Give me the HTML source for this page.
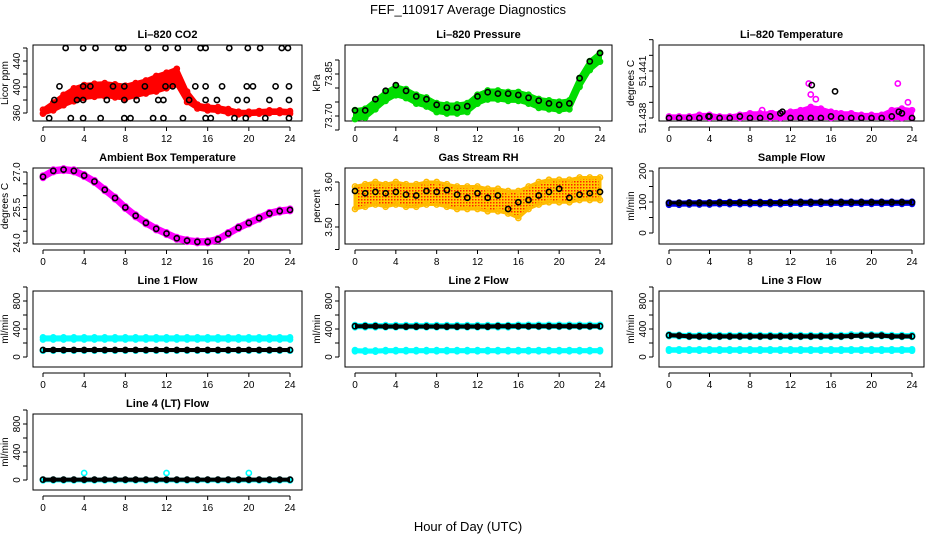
<!DOCTYPE html>
<html><head><meta charset="utf-8"><style>
html,body{margin:0;padding:0;background:#fff}
svg{display:block;font-family:"Liberation Sans",Arial,sans-serif}
</style></head><body>
<svg id="c" width="936" height="540" viewBox="0 0 936 540">
<defs>
<pattern id="rhpat" width="3" height="3" patternUnits="userSpaceOnUse"><rect width="3" height="3" fill="#ffcc00"/><rect x="1" y="1" width="1.5" height="1.5" fill="#ff2200"/></pattern>
</defs>
<text x="468" y="14" text-anchor="middle" font-size="13">FEF_110917  Average Diagnostics</text>
<text x="468" y="531" text-anchor="middle" font-size="13">Hour of Day (UTC)</text>
</svg>
<script>
// ---- data ----
const hours = [0,1,2,3,4,5,6,7,8,9,10,11,12,13,14,15,16,17,18,19,20,21,22,23,24];
const xTicks = [0,4,8,12,16,20,24];

const co2Red = [362,370,380,388,393,395,396,394,392,396,400,405,410,416,385,370,367,366,363,360,360,361,362,362,361];
const co2RedW = [3,6,8,10,10,10,10,10,10,10,10,12,12,12,8,3,3,3,3,2,2,2,2,2,2];
const co2BlkTopH = [2.2,3.9,5.1,7.3,7.8,10.2,11.9,13.1,15.3,15.8,18.1,19.9,21.1,23.2,23.8];
const co2BlkHiH = [1.6,3.9,4.6,6.8,7.9,9.9,11.9,12.6,14.8,15.8,17.4,19.8,20.4,22.6,23.9];
const co2BlkMidH = [1.1,3.3,3.9,6.2,7.9,9.1,11.2,11.7,14.2,15.8,16.9,18.9,19.8,22.0,23.9];
const co2BlkLowH = [0.6,2.7,3.9,5.6,7.9,8.5,10.7,11.7,13.6,15.8,16.3,18.6,19.7,21.6,23.9];
const co2Levels = [460,401,380,352];
const co2YTicks = [360,400,440];

const presGreen = [73.705,73.71,73.74,73.77,73.79,73.78,73.76,73.75,73.73,73.725,73.725,73.73,73.76,73.775,73.775,73.77,73.77,73.76,73.745,73.74,73.735,73.74,73.82,73.88,73.91];
const presBlk = [73.72,73.72,73.76,73.79,73.81,73.79,73.77,73.76,73.74,73.73,73.73,73.735,73.77,73.785,73.78,73.78,73.775,73.765,73.755,73.745,73.74,73.745,73.835,73.895,73.925];
const presYTicks = [73.70,73.85];

const tempPinkHi = [51.4381,51.4381,51.4381,51.4382,51.4382,51.4381,51.4381,51.4382,51.4383,51.4383,51.4383,51.4383,51.4384,51.4385,51.4387,51.4386,51.4384,51.4383,51.4383,51.4382,51.4382,51.4382,51.4385,51.4386,51.4385];
const tempPinkOutH = [14.1,13.8,14.0,14.5,9.2,22.6,23.6,10.2,12.8,16.5];
const tempPinkOutV = [51.4443,51.4402,51.4395,51.4392,51.4385,51.4402,51.4390,51.4383,51.4383,51.4383];
const tempBlk = [51.4380,51.4380,51.4380,51.4380,51.4381,51.4380,51.4380,51.4381,51.4380,51.4380,51.4381,51.4383,51.4380,51.4380,51.4380,51.4380,51.4381,51.4380,51.4380,51.4380,51.4380,51.4380,51.4381,51.4383,51.4380];
const tempBlkOutH = [14.1,16.4,11.2,22.7,3.9];
const tempBlkOutV = [51.4401,51.4397,51.4384,51.4384,51.4381];
const tempYTicks = [51.438,51.441];

const ambPink = [26.8,27.05,27.1,27.05,26.85,26.6,26.25,25.9,25.5,25.15,24.85,24.6,24.4,24.2,24.1,24.05,24.05,24.15,24.4,24.65,24.85,25.05,25.25,25.35,25.4];
const ambYTicks = [24.0,25.5,27.0];

const rhOrange = [3.565,3.57,3.575,3.57,3.575,3.57,3.57,3.575,3.575,3.57,3.565,3.565,3.565,3.56,3.56,3.555,3.55,3.565,3.575,3.58,3.58,3.58,3.585,3.585,3.585];
const rhOrangeW = [0.025,0.025,0.025,0.025,0.025,0.025,0.025,0.025,0.025,0.025,0.025,0.025,0.025,0.025,0.025,0.025,0.03,0.025,0.025,0.025,0.025,0.025,0.025,0.025,0.025];
const rhBlk = [3.58,3.575,3.578,3.575,3.578,3.572,3.57,3.58,3.578,3.582,3.572,3.565,3.575,3.565,3.57,3.54,3.555,3.56,3.57,3.578,3.585,3.565,3.572,3.575,3.578];
const rhYTicks = [3.50,3.60];

const sampleBlue = [95,95,96,96,96,97,97,97,97,97,97,97,98,98,98,98,98,98,98,98,98,98,98,98,98];
const sampleBlk = [97,97,97,97,97,98,98,98,98,98,98,98,99,99,99,100,99,99,99,99,99,99,99,99,99];
const sampleYTicks = [0,100,200];

const flowYTicks = [0,400,800];
const flowMinorTicks = [0,200,400,600,800,1000];
const l1CyanHi = [265,265,265,265,265,265,265,265,265,265,265,265,265,265,265,265,265,265,265,265,265,265,265,265,265];
const l1CyanLo = [95,95,95,95,95,95,95,95,95,95,95,95,95,95,95,95,95,95,95,95,95,95,95,95,95];
const l1Blk = [100,100,100,100,100,100,100,100,100,100,100,100,100,100,100,100,100,100,100,100,100,100,100,100,100];
const l2CyanHi = [440,440,440,440,440,440,440,440,440,440,440,440,440,440,440,440,445,445,445,445,445,445,445,445,445];
const l2CyanLo = [90,85,85,90,90,90,90,90,90,90,90,90,90,90,90,90,90,90,90,90,90,90,90,90,90];
const l2Blk = [440,440,440,435,435,435,435,435,435,435,435,435,435,435,440,440,440,440,440,440,440,440,440,440,440];
const l3CyanHi = [310,305,300,300,300,300,300,300,300,300,300,300,300,300,300,300,300,300,310,310,310,310,300,300,300];
const l3CyanLo = [100,100,100,100,100,100,100,100,100,100,100,100,100,100,100,100,100,100,100,100,100,100,100,100,100];
const l3Blk = [310,305,295,295,295,295,295,295,295,295,295,295,295,295,295,295,295,295,300,305,305,305,295,295,295];
const l4Cyan = [0,0,0,0,0,0,0,0,0,0,0,0,0,0,0,0,0,0,0,0,0,0,0,0,0];
const l4CyanBlipH = [4,12,20];
const l4CyanBlipV = [100,100,100];
const l4Blk = [5,5,5,5,5,5,5,5,5,5,5,5,5,5,5,5,5,5,5,5,5,5,5,5,5];

// ---- layout ----
const svg = document.getElementById('c');
const NS = 'http://www.w3.org/2000/svg';
const colL = [33,345,659], colR = [302,612,924];
const rowT = [45,168,291,414], rowB = [121,244,367,490];

function mk(tag, attrs, parent){ const e=document.createElementNS(NS,tag); for(const k in attrs) e.setAttribute(k,attrs[k]); (parent||svg).appendChild(e); return e; }

function panel(name, col, row, title, ylabel, v0, p0, v1, p1, yticks, minor, fmt){
  const g = mk('g',{});
  
  
  const L=colL[col], R=colR[col], T=rowT[row], B=rowB[row];
  const x0=L+10, x24=R-12;
  const sx = h => x0 + (h/24)*(x24-x0);
  const sy = v => p0 + (v-v0)*(p1-p0)/(v1-v0);
  const t = mk('text',{x:(L+R)/2,y:T-7,'text-anchor':'middle','font-size':11,'font-weight':'bold'},g); t.textContent=title;
   
  const box = mk('rect',{x:L,y:T,width:R-L,height:B-T,fill:'none',stroke:'#000','stroke-width':1},g);
   
  const xa = mk('g',{},g);  
  mk('line',{x1:sx(0),x2:sx(24),y1:B+6,y2:B+6,stroke:'#000'},xa);
  xTicks.forEach(h=>{ mk('line',{x1:sx(h),x2:sx(h),y1:B+6,y2:B+10,stroke:'#000'},xa);
    const tl=mk('text',{x:sx(h),y:B+21,'text-anchor':'middle','font-size':10},xa); tl.textContent=h;
      });
  const ya = mk('g',{},g);  
  const mt = minor||yticks;
  mk('line',{x1:L-6,x2:L-6,y1:sy(mt[0]),y2:sy(mt[mt.length-1]),stroke:'#000'},ya);
  mt.forEach(v=>mk('line',{x1:L-10,x2:L-6,y1:sy(v),y2:sy(v),stroke:'#000'},ya));
  yticks.forEach(v=>{ const yy=sy(v); const tl=mk('text',{x:L-13,y:yy,'text-anchor':'middle','font-size':10,transform:`rotate(-90 ${L-13} ${yy})`},ya);
    tl.textContent=fmt?fmt(v):v;   });
  const yl=mk('text',{x:L-25,y:(T+B)/2,'text-anchor':'middle','font-size':10,transform:`rotate(-90 ${L-25} ${(T+B)/2})`},g);
  yl.textContent=ylabel;  
  const clip = 'cl'+name; const cp=mk('clipPath',{id:clip},g); mk('rect',{x:L-3,y:T-3,width:R-L+6,height:B-T+6},cp);
  const plot = mk('g',{'clip-path':`url(#${clip})`},g);
  return {sx,sy,plot};
}

function band(p, name, hs, lo, hi, color, w, fillc){
  const g=mk('g',{},p.plot);  
  let pts = hs.map((h,i)=>p.sx(h)+','+p.sy(hi[i])).concat(hs.map((h,i)=>[h,i]).reverse().map(([h,i])=>p.sx(h)+','+p.sy(lo[i])));
  const pg=mk('polygon',{points:pts.join(' '),fill:fillc||color,stroke:color,'stroke-width':w||5,'stroke-linejoin':'round'},g);
   
  hs.forEach((h,i)=>{ [lo[i],hi[i]].forEach(v=>{ const c=mk('circle',{cx:p.sx(h),cy:p.sy(v),r:2.6,fill:'none',stroke:color,'stroke-width':1.5},g);
      }); });
}
function pts(p, name, hs, vs, color, line){
  const g=mk('g',{},p.plot);  
  if(line){ const pl=mk('polyline',{points:hs.map((h,i)=>p.sx(h)+','+p.sy(vs[i])).join(' '),fill:'none',stroke:color,'stroke-width':line},g);
      }
  hs.forEach((h,i)=>{ const c=mk('circle',{cx:p.sx(h),cy:p.sy(vs[i]),r:2.6,fill:'none',stroke:color,'stroke-width':1.6},g);
      });
}
const sub=(a,b)=>a.map((v,i)=>v-b[i]), add=(a,b)=>a.map((v,i)=>v+b[i]);
const fill = (n,v)=>hours.map(()=>v);

let p = panel('co2-panel',0,0,'Li\u2013820 CO2','Licor ppm',360,113,400,87,co2YTicks,[360,380,400,420,440,460]);
band(p,'co2-red-series',hours,sub(co2Red,co2RedW),add(co2Red,co2RedW),'#ff0000',4);
[co2BlkTopH,co2BlkHiH,co2BlkMidH,co2BlkLowH].forEach((hs,k)=>pts(p,'co2-black-series',hs,hs.map(()=>co2Levels[k]),'#000'));

p = panel('pressure-panel',1,0,'Li\u2013820 Pressure','kPa',73.70,116,73.85,74,presYTicks,[73.65,73.70,73.75,73.80,73.85,73.90],v=>v.toFixed(2));
band(p,'pressure-green-series',hours,presGreen.map(v=>v-0.016),presGreen.map(v=>v+0.016),'#00dd00',4);
pts(p,'pressure-black-series',hours,presBlk,'#000');

p = panel('temperature-panel',2,0,'Li\u2013820 Temperature','degrees C',51.438,118,51.441,71,tempYTicks,[51.438,51.439,51.440,51.441,51.442,51.443],v=>v.toFixed(3));
band(p,'temperature-pink-series',hours,fill(0,51.438),tempPinkHi,'#ff00ff',4);
pts(p,'temperature-pink-outliers',tempPinkOutH,tempPinkOutV,'#ff00ff');
pts(p,'temperature-black-series',hours,tempBlk,'#000');
pts(p,'temperature-black-outliers',tempBlkOutH,tempBlkOutV,'#000');

p = panel('ambient-panel',0,1,'Ambient Box Temperature','degrees C',24.0,243,27.0,172,ambYTicks,[24.0,24.5,25.0,25.5,26.0,26.5,27.0],v=>v.toFixed(1));
band(p,'ambient-pink-series',hours,ambPink.map(v=>v-0.05),ambPink.map(v=>v+0.05),'#ff00ff',5);
pts(p,'ambient-black-series',hours,ambPink,'#000');

p = panel('rh-panel',1,1,'Gas Stream RH','percent',3.50,227,3.60,182,rhYTicks,[3.45,3.50,3.55,3.60],v=>v.toFixed(2));
band(p,'rh-orange-series',hours,sub(rhOrange,rhOrangeW),add(rhOrange,rhOrangeW),'#ffbb00',3,'url(#rhpat)');
pts(p,'rh-black-series',hours,rhBlk,'#000');

p = panel('sample-flow-panel',2,1,'Sample Flow','ml/min',0,233,200,171,sampleYTicks,[0,50,100,150,200]);
band(p,'sample-blue-series',hours,sampleBlue.map(v=>v-4),sampleBlue.map(v=>v+3),'#0000ee',4);
pts(p,'sample-black-series',hours,sampleBlk,'#000',3);

function flowPanel(name,col,row,title){ const T=rowT[row]; return panel(name,col,row,title,'ml/min',0,T+66,800,T+10,flowYTicks,flowMinorTicks); }
p = flowPanel('line1-flow-panel',0,2,'Line 1 Flow');
band(p,'line1-cyan-high',hours,l1CyanHi.map(v=>v-15),l1CyanHi.map(v=>v+15),'#00ffff',4);
band(p,'line1-cyan-low',hours,l1CyanLo.map(v=>v-5),l1CyanLo.map(v=>v+5),'#00ffff',3);
pts(p,'line1-black-series',hours,l1Blk,'#000',4);

p = flowPanel('line2-flow-panel',1,2,'Line 2 Flow');
band(p,'line2-cyan-high',hours,l2CyanHi.map(v=>v-15),l2CyanHi.map(v=>v+15),'#00ffff',4);
band(p,'line2-cyan-low',hours,l2CyanLo.map(v=>v-8),l2CyanLo.map(v=>v+8),'#00ffff',4);
pts(p,'line2-black-series',hours,l2Blk,'#000',4);

p = flowPanel('line3-flow-panel',2,2,'Line 3 Flow');
band(p,'line3-cyan-high',hours,l3CyanHi.map(v=>v-12),l3CyanHi.map(v=>v+12),'#00ffff',4);
band(p,'line3-cyan-low',hours,l3CyanLo.map(v=>v-10),l3CyanLo.map(v=>v+10),'#00ffff',4);
pts(p,'line3-black-series',hours,l3Blk,'#000',4);

p = flowPanel('line4-flow-panel',0,3,'Line 4 (LT) Flow');
band(p,'line4-cyan-series',hours,l4Cyan.map(v=>v-5),l4Cyan.map(v=>v+5),'#00ffff',4);
pts(p,'line4-cyan-blips',l4CyanBlipH,l4CyanBlipV,'#00ffff');
pts(p,'line4-black-series',hours,l4Blk,'#000',4);
</script>
</body></html>
